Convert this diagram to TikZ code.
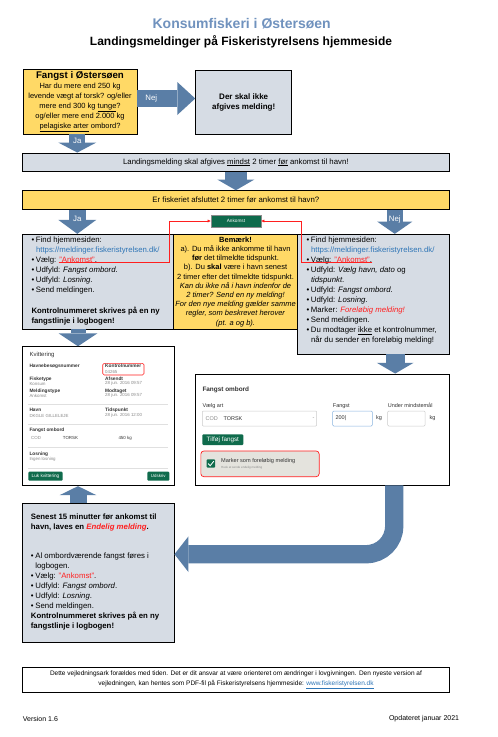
\documentclass[tikz,border=0pt]{standalone}
\usepackage{fontspec}
\setmainfont{Liberation Sans}
\usetikzlibrary{arrows.meta, positioning}

\definecolor{fyellow}{HTML}{FFD966}
\definecolor{fgrey}{HTML}{D6DCE4}
\definecolor{farrow}{HTML}{5A7EA6}
\definecolor{titleblue}{HTML}{7092BE}
\definecolor{fred}{HTML}{FF1F1F}
\definecolor{urlblue}{HTML}{2E75B6}
\definecolor{fgreen}{HTML}{0F6B4C}
\definecolor{kvdark}{HTML}{333333}
\definecolor{kvgrey}{HTML}{8A8A8A}
\definecolor{beige}{HTML}{E4E3DD}
\definecolor{fieldblue}{HTML}{8AB4E0}

\newcommand{\bodyfont}{\fontsize{7.8}{10}\selectfont}
\newcommand{\bul}{\makebox[4.5pt][l]{\textbullet}}
\newcommand{\cont}{\hspace*{4.5pt}}

\begin{document}
\begin{tikzpicture}[x=1pt, y=-1pt]

  % Define styles
  \tikzstyle{box} = [rectangle, draw, line width=0.9pt, inner sep=0pt]
  \tikzstyle{ybox} = [box, fill=fyellow]
  \tikzstyle{gbox} = [box, fill=fgrey]
  \tikzstyle{txt} = [inner sep=0pt, align=left, font=\bodyfont]
  \tikzstyle{fat} = [draw=farrow, line width=17pt, -{Triangle[length=12pt, width=37pt, line width=0pt]}]
  \tikzstyle{arrlabel} = [inner sep=0pt, text=white, font=\fontsize{7.8}{9}\selectfont]
  \tikzstyle{redline} = [draw=fred, line width=0.8pt, -{Latex[length=3.2pt, width=3.2pt]}]
  \tikzstyle{gbtn} = [rectangle, rounded corners=1pt, fill=fgreen, text=white, inner sep=0pt]
  \tikzstyle{kvlabel} = [anchor=west, inner sep=0pt, text=kvdark, font=\fontsize{4.8}{5}\selectfont\bfseries]
  \tikzstyle{kvvalue} = [anchor=west, inner sep=0pt, text=kvgrey, font=\fontsize{4.4}{5}\selectfont]
  \tikzstyle{sepline} = [draw=black!12, line width=0.5pt]
  \tikzstyle{field} = [rectangle, draw=black!20, fill=white, line width=0.5pt, rounded corners=1pt, minimum height=15pt, inner sep=0pt]
  \tikzstyle{folabel} = [anchor=west, inner sep=0pt, text=kvdark, font=\fontsize{5.5}{6}\selectfont]
  \tikzstyle{fovalue} = [anchor=west, inner sep=0pt, text=kvdark, font=\fontsize{5.5}{6}\selectfont]

  \fill[white] (0,0) rectangle (498,737);
  \useasboundingbox (0,0) rectangle (498,737);

  % Labels
  \node[font=\fontsize{14}{16}\selectfont\bfseries, text=titleblue] (title) at (241.7,24) {Konsumfiskeri i Østersøen};
  \node[font=\fontsize{12}{14}\selectfont\bfseries] (subtitle) at (241,41.7) {Landingsmeldinger på Fiskeristyrelsens hjemmeside};

  % Fangst i Østersoen
  \node[ybox, minimum width=114pt, minimum height=65pt, align=center, font=\fontsize{7.5}{10}\selectfont] (fangst) at (80,101.5)
    {{\fontsize{9.7}{10}\selectfont\bfseries Fangst i Østersøen}\\ Har du mere end 250 kg\\ levende vægt af torsk? og/eller\\
     mere end 300 kg \underline{tunge}?\\ og/eller mere end 2.000 kg\\ \underline{pelagiske arter} ombord?};
  \node[gbox, minimum width=96pt, minimum height=64pt, align=center, font=\fontsize{8}{10}\selectfont\bfseries] (ikke) at (243.7,102) {Der skal ikke\\ afgives melding!};

  % Bands
  \node[gbox, minimum width=426.3pt, minimum height=18.7pt, font=\bodyfont] (mindst) at (235.85,162.35)
    {Landingsmelding skal afgives \underline{mindst} 2 timer \underline{før} ankomst til havn!};
  \node[ybox, minimum width=426.3pt, minimum height=18.6pt, font=\bodyfont] (afsluttet) at (235.85,200)
    {Er fiskeriet afsluttet 2 timer før ankomst til havn?};

  % Ja / Bemaerk / Nej
  \node[ybox, minimum width=124.4pt, minimum height=94.7pt] (bemaerk) at (235.5,281.65) {};
  \node[gbox, minimum width=150.6pt, minimum height=94.7pt] (ja) at (98,281.65) {};
  \node[gbox, minimum width=151.3pt, minimum height=119.7pt] (nej) at (373.35,294.15) {};

  \node[txt, anchor=north west] (jatext) at (31.3,237) {\bul Find hjemmesiden:\\
    \cont\textcolor{urlblue}{https://meldinger.fiskeristyrelsen.dk/}\\
    \bul Vælg: \textcolor{fred}{"Ankomst"}.\\
    \bul Udfyld: \textit{Fangst ombord}.\\
    \bul Udfyld: \textit{Losning}.\\
    \bul Send meldingen.\\[11pt]
    \textbf{Kontrolnummeret skrives på en ny}\\
    \textbf{fangstlinje i logbogen!}};

  \node[txt, anchor=north, align=center, font=\fontsize{7.5}{9.2}\selectfont] (bemtext) at (235.5,236.6) {\textbf{Bemærk!}\\
    a). Du må ikke ankomme til havn\\
    \textbf{før} det tilmeldte tidspunkt.\\
    b). Du \textbf{skal} være i havn senest\\
    2 timer efter det tilmeldte tidspunkt.\\
    \textit{Kan du ikke nå i havn indenfor de}\\
    \textit{2 timer? Send en ny melding!}\\
    \textit{For den nye melding gælder samme}\\
    \textit{regler, som beskrevet herover}\\
    \textit{(pt. a og b).}};

  \node[txt, anchor=north west] (nejtext) at (306.3,237) {\bul Find hjemmesiden:\\
    \cont\textcolor{urlblue}{https://meldinger.fiskeristyrelsen.dk/}\\
    \bul Vælg: \textcolor{fred}{"Ankomst"}.\\
    \bul Udfyld: \textit{Vælg havn, dato} og\\
    \cont\textit{tidspunkt}.\\
    \bul Udfyld: \textit{Fangst ombord}.\\
    \bul Udfyld: \textit{Losning}.\\
    \bul Marker: \textcolor{fred}{\textit{Foreløbig melding!}}\\
    \bul Send meldingen.\\
    \bul Du modtager \underline{ikke} et kontrolnummer,\\
    \cont når du sender en foreløbig melding!};

  % Ankomst button and red lines
  \node[gbtn, draw=black!45, line width=0.6pt, rounded corners=0pt, minimum width=49.7pt, minimum height=11.7pt, font=\fontsize{4.7}{5}\selectfont] (ankomst) at (236,221) {Ankomst};
  \coordinate (jaSel) at (58.5,262.8);
  \coordinate (nejSel) at (372.3,262.8);
  \draw[redline] (jaSel) -- (169,262.8) |- (ankomst.west);
  \draw[redline] (nejSel) -- (301.7,262.8) |- (ankomst.east);

  % Kvittering
  \node[box, fill=white, minimum width=151.3pt, minimum height=139pt] (kvit) at (98.35,416.2) {};
  \node[anchor=west, inner sep=0pt, text=kvdark, font=\fontsize{6}{7}\selectfont] (kvtitle) at (29.3,355) {Kvittering};
  \node[kvlabel] (kvhavnenr) at (29.3,366) {Havnebesøgsnummer};
  \node[rectangle, draw=fred, rounded corners=1.5pt, line width=0.6pt, minimum width=41.3pt, minimum height=11.7pt] (kvkontrol) at (123.35,369.15) {};
  \node[kvlabel] (kvkontrolL) at (105,366) {Kontrolnummer};
  \node[kvvalue] (kvkontrolV) at (105,372.3) {04265};
  \node[kvlabel] (kvfisk) at (29.3,379) {Fisketype};
  \node[kvvalue] (kvfiskV) at (29.3,383.7) {Konsum};
  \node[kvlabel] (kvafs) at (105,379) {Afsendt};
  \node[kvvalue] (kvafsV) at (105,383.7) {28 jun. 2016 09:57};
  \node[kvlabel] (kvtype) at (29.3,391) {Meldingstype};
  \node[kvvalue] (kvtypeV) at (29.3,395.7) {Ankomst};
  \node[kvlabel] (kvmod) at (105,391) {Modtaget};
  \node[kvvalue] (kvmodV) at (105,395.7) {28 jun. 2016 09:57};
  \draw[sepline] (28,404) -- (168,404);
  \node[kvlabel] (kvhavn) at (29.3,410) {Havn};
  \node[kvvalue] (kvhavnV) at (29.3,415.7) {DKGLE GILLELEJE};
  \node[kvlabel] (kvtid) at (105,410) {Tidspunkt};
  \node[kvvalue] (kvtidV) at (105,415.7) {28 jun. 2016 12:00};
  \draw[sepline] (28,424.3) -- (168,424.3);
  \node[kvlabel] (kvfangst) at (29.3,430) {Fangst ombord};
  \node[kvvalue] (kvcod) at (31,438.3) {COD};
  \node[kvvalue, text=kvdark] (kvtorsk) at (62.7,438.3) {TORSK};
  \node[kvvalue, text=kvdark] (kvkg) at (118.3,438.3) {450 kg};
  \draw[sepline] (28,447.3) -- (168,447.3);
  \node[kvlabel] (kvlos) at (29.3,454) {Losning};
  \node[kvvalue] (kvlosV) at (29.3,459.3) {Ingen losning};
  \draw[sepline] (28,468.3) -- (168,468.3);
  \node[gbtn, minimum width=34.4pt, minimum height=9pt, font=\fontsize{4.7}{5}\selectfont] (kvluk) at (45.5,476.2) {Luk kvittering};
  \node[gbtn, minimum width=22pt, minimum height=9pt, font=\fontsize{4.4}{5}\selectfont] (kvprint) at (158.3,476.2) {Udskriv};

  % Fangst ombord form
  \node[box, fill=white, minimum width=253.6pt, minimum height=111pt] (form) at (322.5,429.5) {};
  \node[anchor=west, inner sep=0pt, text=kvdark, font=\fontsize{6.4}{7}\selectfont\bfseries] (fotitle) at (202.3,390) {Fangst ombord};
  \node[folabel] (foart) at (202.3,405.7) {Vælg art};
  \node[field, minimum width=114.4pt] (fosel) at (259.5,418.5) {};
  \node[fovalue, text=kvgrey] (focod) at (205.5,418.5) {COD};
  \node[fovalue] (fotorsk) at (223.3,418.5) {TORSK};
  \node[fovalue, text=kvgrey] (fodrop) at (312.3,418.5) {-};
  \node[folabel] (fofangst) at (332.7,405.7) {Fangst};
  \node[field, draw=fieldblue, minimum width=39.6pt] (foin) at (352.5,418.5) {};
  \node[fovalue] (foval) at (335.3,418.5) {200|};
  \node[fovalue] (fokg1) at (376,418.5) {kg};
  \node[folabel] (fomin) at (387.7,405.7) {Under mindstemål};
  \node[field, minimum width=37.3pt] (foin2) at (406.35,418.5) {};
  \node[fovalue] (fokg2) at (429.3,418.5) {kg};
  \node[gbtn, minimum width=41pt, minimum height=10.7pt, font=\fontsize{6.3}{7}\selectfont] (fotilfoj) at (222.8,439.65) {Tilføj fangst};
  \node[rectangle, draw=fred, fill=beige, rounded corners=3pt, line width=0.7pt, minimum width=118.3pt, minimum height=25.7pt] (fomark) at (260,463.85) {};
  \node[rectangle, fill=fgreen, rounded corners=0.8pt, minimum size=8.3pt, inner sep=0pt] (fochk) at (210.85,463.5) {};
  \draw[white, line width=0.8pt] ([xshift=-2.8pt]fochk.center) -- ([xshift=-0.6pt, yshift=-2.2pt]fochk.center) -- ([xshift=2.9pt, yshift=2.3pt]fochk.center);
  \node[anchor=west, inner sep=0pt, text=kvdark, font=\fontsize{5.6}{6}\selectfont] (fomarktxt) at (221,460.7) {Marker som foreløbig melding};
  \node[anchor=west, inner sep=0pt, text=kvgrey, font=\fontsize{3}{4}\selectfont] (fohusk) at (221,467.7) {Husk at sende endelig melding};

  % Endelig melding
  \node[gbox, minimum width=151.3pt, minimum height=139pt] (endelig) at (98.35,572.8) {};
  \node[txt, anchor=north west] (endtext) at (30.7,513.8) {\textbf{Senest 15 minutter før ankomst til}\\
    \textbf{havn, laves en \textcolor{fred}{\textit{Endelig melding}}.}\\[18.7pt]
    \bul Al ombordværende fangst føres i\\
    \cont logbogen.\\
    \bul Vælg: \textcolor{fred}{"Ankomst"}.\\
    \bul Udfyld: \textit{Fangst ombord}.\\
    \bul Udfyld: \textit{Losning}.\\
    \bul Send meldingen.\\
    \textbf{Kontrolnummeret skrives på en ny}\\
    \textbf{fangstlinje i logbogen!}};

  % Footer
  \node[box, minimum width=426.6pt, minimum height=25pt, align=center, font=\fontsize{6.5}{9.3}\selectfont] (footer) at (236,679.8)
    {Dette vejledningsark forældes med tiden. Det er dit ansvar at være orienteret om ændringer i lovgivningen. Den nyeste version af\\
     vejledningen, kan hentes som PDF-fil på Fiskeristyrelsens hjemmeside: \textcolor{urlblue}{\underline{www.fiskeristyrelsen.dk}}};
  \node[anchor=west, inner sep=0pt, font=\fontsize{7}{8}\selectfont] (version) at (22.7,719) {Version 1.6};
  \node[anchor=east, inner sep=0pt, font=\fontsize{7}{8}\selectfont] (updated) at (459.3,719) {Opdateret januar 2021};

  % Block arrows
  \coordinate (nejY) at (0,98.5);
  \coordinate (jaX) at (77.3,0);
  \coordinate (nejX) at (394.8,0);
  \coordinate (kvX) at (78,0);
  \coordinate (formX) at (395.2,0);
  \coordinate (bendX) at (394.2,0);
  \coordinate (bendY) at (0,554.2);

  \draw[fat, -{Triangle[length=18pt, width=33pt, line width=0pt]}] (fangst.east |- nejY) -- node[arrlabel, pos=0.24] {Nej} (ikke.west |- nejY);
  \draw[fat, line width=16pt, -{Triangle[length=10pt, width=38pt, line width=0pt]}] (fangst.south -| jaX) -- node[arrlabel, pos=0.33] {Ja} (mindst.north -| jaX);
  \draw[fat, line width=22pt, -{Triangle[length=10.7pt, width=37pt, line width=0pt]}] (mindst.south) -- (afsluttet.north);
  \draw[fat, -{Triangle[length=14pt, width=38pt, line width=0pt]}] (afsluttet.south -| jaX) -- node[arrlabel, pos=0.37] {Ja} (ja.north -| jaX);
  \draw[fat, line width=16.3pt, -{Triangle[length=12.3pt, width=35.3pt, line width=0pt]}] (afsluttet.south -| nejX) -- node[arrlabel, pos=0.4] {Nej} (nej.north -| nejX);
  \draw[fat, line width=15pt, -{Triangle[length=13pt, width=39pt, line width=0pt]}] (ja.south -| kvX) -- (kvit.north -| kvX);
  \draw[fat, -{Triangle[length=9pt, width=36.7pt, line width=0pt]}] (endelig.north -| kvX) -- (kvit.south -| kvX);
  \draw[fat, line width=19pt, -{Triangle[length=10.7pt, width=36.6pt, line width=0pt]}] (nej.south -| formX) -- (form.north -| formX);
  \draw[fat, line width=18.3pt, rounded corners=28pt, -{Triangle[length=14pt, width=35.7pt, line width=0pt]}] (form.south -| bendX) |- (endelig.east |- bendY);

\end{tikzpicture}
\end{document}
